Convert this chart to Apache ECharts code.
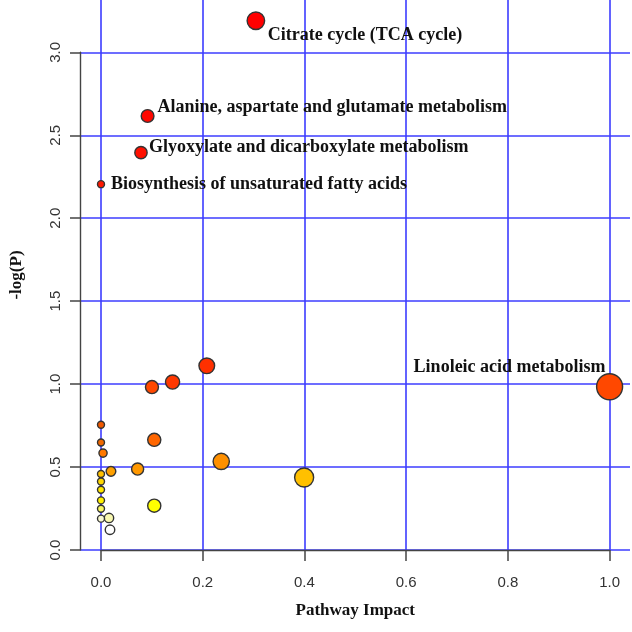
<!DOCTYPE html>
<html>
<head>
<meta charset="utf-8">
<script src="https://cdn.jsdelivr.net/npm/echarts@6/dist/echarts.min.js"></script>
<style>
html,body{margin:0;padding:0;background:#fff;}
#chart{width:632px;height:632px;}
</style>
</head>
<body>
<div id="chart"></div>
<script>
// ---- data ----
const pathwayNames = [
  'Citrate cycle (TCA cycle)',
  'Alanine, aspartate and glutamate metabolism',
  'Glyoxylate and dicarboxylate metabolism',
  'Biosynthesis of unsaturated fatty acids',
  '', '',
  'Linoleic acid metabolism',
  '', '', '', '', '', '', '', '', '', '', '', '', '', '', '', '', '', ''
];
const pathwayImpact = [
  0.3045, 0.0916, 0.0786, 0.0, 0.208, 0.1407, 1.0, 0.1002, 0.0, 0.1047,
  0.0, 0.004, 0.2364, 0.072, 0.0196, 0.0, 0.3994, 0.0, 0.0, 0.0,
  0.1047, 0.0, 0.0157, 0.0, 0.0177
];
const negLogP = [
  3.19, 2.616, 2.395, 2.205, 1.11, 1.012, 0.984, 0.982, 0.755, 0.664,
  0.648, 0.584, 0.534, 0.488, 0.474, 0.458, 0.437, 0.413, 0.363, 0.299,
  0.267, 0.249, 0.193, 0.189, 0.122
];
const xTickRange = {min: 0, max: 1.0, interval: 0.2};
const yTickRange = {min: 0, max: 3.0, interval: 0.5};

// ---- styles (kept apart from data) ----
const pointColors = [
  '#ff0000', '#ff0800', '#ff1000', '#ff1800', '#ff3000', '#ff3800', '#ff4800', '#ff4800', '#f05800', '#ff6600',
  '#f06800', '#ff7800', '#ff9000', '#ff9800', '#ffa000', '#ffc000', '#ffc000', '#ffd800', '#ffe800', '#fff000',
  '#ffff00', '#f8f860', '#f8f8b0', '#f8f8d0', '#ffffff'
];
const labelStyle = {
  'Citrate cycle (TCA cycle)': {align: 'left', offset: [12, 15]},
  'Alanine, aspartate and glutamate metabolism': {align: 'left', offset: [10, -9]},
  'Glyoxylate and dicarboxylate metabolism': {align: 'left', offset: [8, -5]},
  'Biosynthesis of unsaturated fatty acids': {align: 'left', offset: [10, 0]},
  'Linoleic acid metabolism': {align: 'right', offset: [-4, -19]}
};
const GRID_BLUE = '#3c3cff';
const AXIS_GRAY = '#444444';
const Y_TOP = 3.315; // visible -log(P) extent at the top edge of the picture

const points = pathwayImpact.map((x, i) => {
  const name = pathwayNames[i];
  const item = {
    name: name,
    value: [x, negLogP[i]],
    itemStyle: {color: pointColors[i]}
  };
  if (name && labelStyle[name]) {
    item.label = {
      show: true,
      position: 'inside',
      align: labelStyle[name].align,
      verticalAlign: 'middle',
      offset: labelStyle[name].offset,
      formatter: '{b}',
      fontFamily: 'Liberation Serif',
      fontWeight: 'bold',
      fontSize: 18,
      color: '#111'
    };
  }
  return item;
});

const tickLabel = {
  formatter: v => v.toFixed(1),
  fontFamily: 'Liberation Sans',
  fontSize: 15,
  color: '#333'
};
const titleFont = {fontFamily: 'Liberation Serif', fontWeight: 'bold', fontSize: 17, color: '#111'};
const hidden = {
  axisLine: {show: false, onZero: false},
  axisTick: {show: false},
  axisLabel: {show: false},
  splitLine: {show: false}
};

const chart = echarts.init(document.getElementById('chart'), null, {renderer: 'canvas'});
chart.setOption({
  animation: false,
  backgroundColor: '#ffffff',
  grid: [
    // grid 0: data area + x axis (0..1) + vertical grid lines
    {left: 100.4, right: 22.4, top: 0, bottom: 82, containLabel: false},
    // grid 1: y axis (0..3) + horizontal grid lines
    {left: 80, right: 2, top: 52.3, bottom: 82, containLabel: false}
  ],
  xAxis: [
    {
      gridIndex: 0,
      type: 'value',
      min: xTickRange.min,
      max: xTickRange.max,
      interval: xTickRange.interval,
      name: 'Pathway Impact',
      nameLocation: 'middle',
      nameGap: 52,
      nameTextStyle: titleFont,
      axisLine: {show: true, onZero: false, lineStyle: {color: AXIS_GRAY, width: 1.4}},
      axisTick: {show: true, length: 11, lineStyle: {color: AXIS_GRAY, width: 1.5}},
      axisLabel: Object.assign({margin: 25}, tickLabel),
      splitLine: {show: true, lineStyle: {color: GRID_BLUE, width: 1.6}}
    },
    Object.assign({gridIndex: 1, type: 'value', min: 0, max: 1}, hidden)
  ],
  yAxis: [
    Object.assign({
      gridIndex: 0,
      type: 'value',
      min: 0,
      max: Y_TOP,
      name: '-log(P)',
      nameLocation: 'middle',
      nameRotate: 90,
      nameGap: 76,
      nameTextStyle: titleFont
    }, hidden),
    {
      gridIndex: 1,
      type: 'value',
      min: yTickRange.min,
      max: yTickRange.max,
      interval: yTickRange.interval,
      axisLine: {show: true, onZero: false, lineStyle: {color: AXIS_GRAY, width: 1.4}},
      axisTick: {show: true, length: 10, lineStyle: {color: AXIS_GRAY, width: 1.5}},
      axisLabel: Object.assign({rotate: 90, margin: 17}, tickLabel),
      splitLine: {show: true, lineStyle: {color: GRID_BLUE, width: 1.6}}
    }
  ],
  series: [
    {
      type: 'scatter',
      xAxisIndex: 0,
      yAxisIndex: 0,
      z: 3,
      data: points,
      symbol: 'circle',
      symbolSize: d => 7 + 19 * Math.sqrt(d[0]),
      itemStyle: {borderColor: '#333', borderWidth: 1.4, opacity: 1},
      emphasis: {disabled: true},
      clip: false
    }
  ]
});
</script>
</body>
</html>
